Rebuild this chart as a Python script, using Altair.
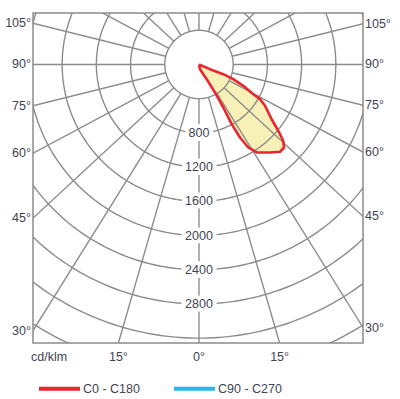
import altair as alt
import numpy as np
import pandas as pd

# ---------------- data ----------------
ring_cd = [400, 800, 1200, 1600, 2000, 2400, 2800, 3200, 3600]
ring_label_cd = [800, 1200, 1600, 2000, 2400, 2800]
ray_angles = list(range(0, 360, 15))
side_label_angles = [105, 90, 75, 60, 45, 30]
bottom_label_angles = [-15, 0, 15]

# C0 - C180 intensity outline (gamma in degrees from nadir, cd/klm)
curve_gamma = [0, 66.9, 68.2, 66.8, 64.3, 61.3, 60.4, 58.0, 53.0, 50.1, 47.8, 45.7,
               42.9, 38.9, 33.3, 30.7, 29.3, 28.7, 29.5, 29.7, 27.6, 12.0, 0]
curve_cd = [0, 140, 306, 436, 575, 724, 821, 911, 1064, 1209, 1330, 1390,
            1393, 1322, 1231, 1129, 979, 796, 578, 377, 194, 56, 0]

planes = ["C0 - C180", "C90 - C270"]
plane_colors = ["#e8262f", "#2fb4ec"]
unit_label = "cd/klm"

# ---------------- geometry / style ----------------
X_MIN, X_MAX = -1941, 1918
Y_MIN, Y_MAX = -3257, 602
RAY_STRETCH = 1.08
GRID = "#8c8c8c"
TXT = "#3f4452"
FONT = "Liberation Sans"
FS = 12.5

xs = alt.Scale(domain=[X_MIN, X_MAX], nice=False, zero=False)
ys = alt.Scale(domain=[Y_MIN, Y_MAX], nice=False, zero=False)

# rings
rows = []
t = np.linspace(0, 2 * np.pi, 361)
for r in ring_cd:
    for i, a in enumerate(t):
        rows.append({"ring": r, "i": i, "x": r * np.sin(a), "y": -r * np.cos(a)})
rings_df = pd.DataFrame(rows)

# rays
def ray_dir(deg):
    a = np.radians(deg)
    dx, dy = RAY_STRETCH * np.sin(a), -np.cos(a)
    n = np.hypot(dx, dy)
    return dx / n, dy / n

rows = []
for a in ray_angles:
    dx, dy = ray_dir(a)
    for k, r in enumerate([ring_cd[0], 8000]):
        rows.append({"ray": a, "k": k, "x": r * dx, "y": r * dy})
rays_df = pd.DataFrame(rows)

# curve
g = np.radians(curve_gamma)
curve_df = pd.DataFrame({
    "idx": range(len(curve_gamma)),
    "x": np.array(curve_cd) * np.sin(g),
    "y": -np.array(curve_cd) * np.cos(g),
    "plane": planes[0],
})

# labels
ring_lab_df = pd.DataFrame({"x": 0, "y": [-v for v in ring_label_cd],
                            "t": [str(v) for v in ring_label_cd]})

def side_y(deg, edge):
    dx, dy = ray_dir(deg)
    return dy / dx * edge

left_df = pd.DataFrame({"y": [side_y(a, -X_MIN) for a in side_label_angles],
                        "t": [f"{a}°" for a in side_label_angles]})
right_df = pd.DataFrame({"y": [side_y(a, X_MAX) for a in side_label_angles],
                         "t": [f"{a}°" for a in side_label_angles]})

def bottom_x(deg):
    dx, dy = ray_dir(deg)
    return dx / -dy * (-Y_MIN)

bottom_df = pd.DataFrame({"x": [bottom_x(a) for a in bottom_label_angles],
                          "t": [f"{abs(a)}°" for a in bottom_label_angles]})
unit_df = pd.DataFrame({"t": [unit_label]})

X = lambda: alt.X("x:Q", scale=xs, axis=None)
Y = lambda: alt.Y("y:Q", scale=ys, axis=None)

fill = alt.Chart(curve_df).mark_line(
    fill="#f0e060", fillOpacity=0.45, strokeOpacity=0
).encode(x=X(), y=Y(), order="idx:Q")

rings = alt.Chart(rings_df).mark_line(
    color=GRID, strokeWidth=1.4, clip=True
).encode(x=X(), y=Y(), detail="ring:N", order="i:Q")

rays = alt.Chart(rays_df).mark_line(
    color=GRID, strokeWidth=1.4, clip=True
).encode(x=X(), y=Y(), detail="ray:N", order="k:Q")

outline = alt.Chart(curve_df).mark_line(
    strokeWidth=2.6, strokeJoin="round"
).encode(
    x=X(), y=Y(), order="idx:Q",
    color=alt.Color(
        "plane:N",
        scale=alt.Scale(domain=planes, range=plane_colors),
        legend=alt.Legend(
            orient="none", legendX=4, legendY=353, direction="horizontal",
            title=None, symbolType="stroke", symbolSize=1681,
            symbolStrokeWidth=4, labelFont=FONT, labelFontSize=FS,
            labelColor=TXT, labelOffset=1, columnPadding=26, padding=0,
        ),
    ),
)

halo = alt.Chart(ring_lab_df).mark_text(
    font=FONT, fontSize=FS, color="white", stroke="white", strokeWidth=8,
    baseline="middle", align="center"
).encode(x=X(), y=Y(), text="t:N")

ring_text = alt.Chart(ring_lab_df).mark_text(
    font=FONT, fontSize=FS, color=TXT, baseline="middle", align="center"
).encode(x=X(), y=Y(), text="t:N")

left_text = alt.Chart(left_df).mark_text(
    font=FONT, fontSize=FS, color=TXT, baseline="middle", align="right"
).encode(x=alt.value(-2), y=Y(), text="t:N")

right_text = alt.Chart(right_df).mark_text(
    font=FONT, fontSize=FS, color=TXT, baseline="middle", align="left"
).encode(x=alt.value(332), y=Y(), text="t:N")

bottom_text = alt.Chart(bottom_df).mark_text(
    font=FONT, fontSize=FS, color=TXT, baseline="middle", align="center"
).encode(x=X(), y=alt.value(344), text="t:N")

unit_text = alt.Chart(unit_df).mark_text(
    font=FONT, fontSize=FS, color=TXT, baseline="middle", align="left"
).encode(x=alt.value(-2), y=alt.value(344), text="t:N")

chart = alt.layer(
    fill, rings, rays, outline, halo, ring_text,
    left_text, right_text, bottom_text, unit_text
).properties(
    width=330, height=330, autosize="none",
    padding={"left": 33, "top": 13, "right": 37, "bottom": 56},
).configure_view(stroke="#8c8c8c", strokeWidth=1.5)

chart.save("out.html", embed_options={"renderer": "svg", "actions": False})
